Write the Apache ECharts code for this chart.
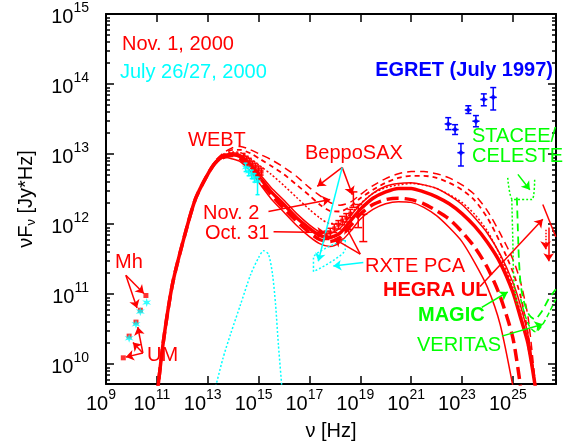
<!DOCTYPE html>
<html>
<head>
<meta charset="utf-8">
<script src="https://cdn.jsdelivr.net/npm/echarts@6/dist/echarts.min.js"></script>
<style>
html, body { margin: 0; padding: 0; background: #fff; }
#main { width: 570px; height: 448px; }
</style>
</head>
<body>
<div id="main"></div>
<script>
// all values are log10: frequency [Hz] and nuFnu [Jy*Hz]
var nuLog = [11.0, 11.27, 11.63, 12.14, 12.53, 13.0, 13.31, 13.67, 13.98, 14.29, 14.69, 15.1, 15.5, 16.0, 16.5, 17.0, 17.4, 17.8, 18.2, 18.6, 19.0, 19.5, 20.0, 20.5, 21.0, 21.5, 22.0, 22.5, 23.0, 23.5, 24.0, 24.5, 25.0, 25.3, 25.6, 25.9]

// red model curves (Nov. 1 2000 and neighbours)
var modelThick = [9.53, 10.36, 11.17, 11.90, 12.37, 12.71, 12.88, 12.98, 12.99, 12.96, 12.82, 12.64, 12.46, 12.28, 12.09, 11.94, 11.84, 11.81, 11.87, 12.04, 12.21, 12.37, 12.46, 12.51, 12.51, 12.46, 12.39, 12.29, 12.15, 11.97, 11.74, 11.45, 11.03, 10.67, 10.29, 9.64]
var modelLow = [9.53, 10.36, 11.17, 11.90, 12.37, 12.71, 12.88, 12.95, 12.93, 12.89, 12.75, 12.55, 12.36, 12.17, 11.98, 11.82, 11.72, 11.68, 11.74, 11.89, 12.07, 12.21, 12.29, 12.32, 12.31, 12.24, 12.12, 11.95, 11.75, 11.45, 11.10, 10.57, 9.69]
var modelThickDash = [9.53, 10.36, 11.17, 11.90, 12.37, 12.71, 12.88, 12.96, 12.98, 12.93, 12.79, 12.59, 12.42, 12.22, 12.04, 11.88, 11.78, 11.75, 11.81, 11.97, 12.14, 12.28, 12.35, 12.37, 12.35, 12.29, 12.19, 12.07, 11.89, 11.67, 11.38, 10.97, 10.38, 9.69]
var modelTopDash = [9.53, 10.36, 11.17, 11.90, 12.37, 12.71, 12.91, 13.03, 13.09, 13.11, 13.06, 12.99, 12.92, 12.81, 12.68, 12.52, 12.41, 12.31, 12.27, 12.31, 12.42, 12.55, 12.65, 12.72, 12.75, 12.75, 12.72, 12.66, 12.56, 12.42, 12.19, 11.87, 11.50, 11.18, 10.67, 9.67]
var modelMidDash = [9.53, 10.36, 11.17, 11.90, 12.37, 12.71, 12.89, 13.01, 13.06, 13.06, 13.01, 12.92, 12.83, 12.71, 12.56, 12.41, 12.28, 12.19, 12.18, 12.25, 12.37, 12.49, 12.59, 12.66, 12.69, 12.69, 12.66, 12.59, 12.49, 12.34, 12.09, 11.74, 11.32, 10.98, 10.43, 9.64]
var modelDotted = [9.53, 10.36, 11.17, 11.90, 12.37, 12.71, 12.88, 12.99, 13.03, 13.02, 12.93, 12.82, 12.71, 12.55, 12.38, 12.21, 12.09, 12.01, 12.01, 12.14, 12.29, 12.44, 12.52, 12.56, 12.58, 12.56, 12.51, 12.42, 12.31, 12.14, 11.90, 11.55, 11.10, 10.74, 10.24, 9.64]
var modelThin = [9.53, 10.36, 11.17, 11.90, 12.37, 12.71, 12.88, 12.98, 13.02, 12.99, 12.86, 12.69, 12.52, 12.34, 12.15, 11.99, 11.89, 11.87, 11.94, 12.11, 12.28, 12.44, 12.54, 12.58, 12.59, 12.56, 12.51, 12.41, 12.28, 12.09, 11.87, 11.57, 11.17, 10.84, 10.41, 9.68]

// cyan model (July 26/27 2000)
var julyNu = [13.24, 13.59, 13.90, 14.29, 14.69, 15.0, 15.20, 15.39, 15.55, 15.67, 15.78, 15.94]
var julyF = [9.57, 10.07, 10.43, 10.85, 11.28, 11.52, 11.62, 11.57, 11.28, 10.85, 10.28, 9.57]

// radio (UM, Mh)
var radioNu = [10.57, 10.35, 10.18, 9.91, 9.68]
var radioF = [10.98, 10.77, 10.60, 10.40, 10.09]
var radioJulyNu = [10.60, 10.35, 10.18, 9.91]
var radioJulyF = [10.88, 10.75, 10.57, 10.37]

// WEBT optical
var webtNu = [14.41, 14.53, 14.65, 14.76, 14.88, 15.0, 15.12]
var webtF = [12.96, 12.92, 12.89, 12.85, 12.82, 12.78, 12.75]
var webtJulyNu = [14.49, 14.61, 14.73, 14.84, 14.96]
var webtJulyF = [12.81, 12.75, 12.71, 12.66, 12.61]
var webtJulyLo = [12.75, 12.69, 12.65, 12.60, 12.42]
var webtJulyHi = [12.87, 12.81, 12.77, 12.72, 12.67]

// BeppoSAX / RXTE X-rays
var saxNu = [17.67, 17.82, 17.98, 18.14, 18.29, 18.45, 18.61]
var saxF = [11.84, 11.88, 11.94, 11.99, 12.05, 12.09, 12.15]
var pcaNu = [18.73, 18.92, 19.12]
var pcaF = [12.35, 12.12, 11.95]
var pcaLo = [12.24, 11.95, 11.75]
var pcaHi = [12.46, 12.28, 12.14]
var xrayJulyNu = [17.16, 17.16, 18.41, 18.41, 17.16]
var xrayJulyF = [11.32, 11.52, 11.78, 11.64, 11.32]

// EGRET (July 1997)
var egretNu = [22.46, 22.73, 22.96, 23.25, 23.55, 23.86, 24.23]
var egretF = [13.43, 13.35, 13.02, 13.63, 13.47, 13.78, 13.81]
var egretLo = [13.35, 13.28, 12.83, 13.58, 13.39, 13.69, 13.63]
var egretHi = [13.52, 13.42, 13.15, 13.69, 13.55, 13.86, 13.95]

// HEGRA upper limit and sensitivity curves
var hegraNu = [26.18, 26.69]
var hegraF = [12.28, 11.82]
var stageNu = [24.80, 25.0, 25.75, 25.86]
var stageF = [12.66, 12.35, 12.35, 12.66]
var stageTailNu = [24.96, 25.0, 25.04, 25.16]
var stageTailF = [12.35, 11.78, 11.21, 10.85]
var magicNu = [25.16, 25.20, 25.24, 25.31, 25.43, 25.63, 25.86, 26.14, 26.41, 26.69]
var magicF = [12.38, 11.92, 11.50, 11.14, 10.90, 10.71, 10.64, 10.75, 10.93, 11.07]
var veritasNu = [25.31, 25.47, 25.67, 25.90, 26.18, 26.45, 26.69]
var veritasF = [10.93, 10.71, 10.53, 10.46, 10.57, 10.75, 10.93]

var xTicks = [1e9, 1e11, 1e13, 1e15, 1e17, 1e19, 1e21, 1e23, 1e25]
var yTicks = [1e10, 1e11, 1e12, 1e13, 1e14, 1e15]

// annotation arrows: [nu1, f1, nu2, f2, colour, style]
var arrows = [
    [9.78, 11.27, 10.49, 11.01, 'red'], [9.78, 11.27, 10.22, 10.80, 'red'],
    [10.45, 10.16, 10.06, 10.31, 'red'], [10.45, 10.16, 10.25, 10.53, 'red'], [10.45, 10.16, 9.78, 10.10, 'red'],
    [15.39, 12.18, 17.82, 12.35, 'red'], [15.59, 11.89, 17.63, 11.88, 'red'],
    [18.29, 12.81, 17.31, 12.54, 'red'], [18.29, 12.81, 18.69, 12.42, 'red'], [18.29, 12.81, 17.35, 11.47, 'cyan'],
    [19.0, 11.57, 17.98, 11.79, 'red'], [19.0, 11.57, 18.41, 11.98, 'red'], [19.12, 11.45, 17.94, 11.40, 'cyan'],
    [23.71, 11.11, 26.18, 12.07, 'red'],
    [23.78, 10.81, 24.80, 11.03, 'green'], [24.57, 10.40, 26.18, 10.57, 'green'], [25.20, 12.71, 25.67, 12.49, 'green'],
    [26.41, 11.95, 26.41, 11.47, 'red'], [26.29, 11.92, 26.29, 11.64, 'red', 'dotted']
]

var RED = '#ff0000', CYAN = '#00ffff', GREEN = '#00ff00', BLUE = '#0000ff'
var colours = { red: RED, cyan: CYAN, green: GREEN }
var FONT = 'Liberation Sans'

function p10 (v) { return Math.pow(10, v) }

function pts (xs, ys) {
    var out = []
    for (var i = 0; i < ys.length; i++) out.push([p10(xs[i]), p10(ys[i])])
    return out
}

function bars (xs, ys, lo, hi, dx) {
    var out = []
    for (var i = 0; i < xs.length; i++) {
        var row = [p10(xs[i]), p10(ys[i]), p10(lo[i]), p10(hi[i])]
        if (dx) row.push(p10(xs[i] - dx), p10(xs[i] + dx))
        out.push(row)
    }
    return out
}

var yMinor = []
for (var d = 9; d < 15; d++) {
    for (var m = 2; m < 10; m++) {
        if (m * Math.pow(10, d) > 5.2e9) yMinor.push(m * Math.pow(10, d))
    }
}

function curve (ys, color, width, type, nus) {
    return {
        type: 'line', data: pts(nus || nuLog, ys), showSymbol: false, smooth: 0.25,
        lineStyle: { color: color, width: width, type: type || 'solid' }, z: 3
    }
}

function errSeries (data, color, cap, z) {
    return {
        type: 'custom', data: data, z: z || 4,
        encode: { x: 0, y: 1 },
        renderItem: function (params, api) {
            var x = api.value(0), y = api.value(1)
            var lo = api.coord([x, api.value(2)])
            var hi = api.coord([x, api.value(3)])
            var st = { stroke: color, lineWidth: 1.5 }
            var ch = [
                { type: 'line', shape: { x1: lo[0], y1: lo[1], x2: hi[0], y2: hi[1] }, style: st },
                { type: 'line', shape: { x1: lo[0] - cap, y1: lo[1], x2: lo[0] + cap, y2: lo[1] }, style: st },
                { type: 'line', shape: { x1: hi[0] - cap, y1: hi[1], x2: hi[0] + cap, y2: hi[1] }, style: st }
            ]
            var xl = api.value(4)
            if (xl > 0) {
                var l = api.coord([xl, y]), r = api.coord([api.value(5), y])
                ch.push({ type: 'line', shape: { x1: l[0], y1: l[1], x2: r[0], y2: r[1] }, style: st })
            }
            return { type: 'group', children: ch }
        }
    }
}

var star = 'path://M0,-10L2,-3.46L8.66,-5L4,0L8.66,5L2,3.46L0,10L-2,3.46L-8.66,5L-4,0L-8.66,-5L-2,-3.46Z'

var rich = {
    b: { fontSize: 20, fontFamily: FONT, color: '#000', lineHeight: 26, verticalAlign: 'bottom' },
    s: { fontSize: 14, fontFamily: FONT, color: '#000', lineHeight: 14, verticalAlign: 'top' }
}
function powLabel (v) {
    return '{b|10}{s|' + Math.round(Math.log10(v)) + '}'
}

function xAxisOf (pos) {
    return {
        type: 'log', logBase: 10, min: 1e9, max: 5e26, position: pos,
        axisLine: { onZero: false, lineStyle: { color: '#000', width: 2 } },
        axisTick: { inside: true, length: 8, customValues: xTicks, lineStyle: { color: '#000', width: 1.5 } },
        axisLabel: pos === 'bottom'
            ? { customValues: xTicks, formatter: powLabel, rich: rich, margin: 4, padding: [0, 10, 0, 0], showMinLabel: true, showMaxLabel: true }
            : { show: false },
        splitLine: { show: false }, minorTick: { show: false },
        name: pos === 'bottom' ? 'ν [Hz]' : '',
        nameLocation: 'middle', nameGap: 37,
        nameTextStyle: { fontSize: 20, fontFamily: FONT, color: '#000' }
    }
}

function yAxisOf (pos, minor) {
    var a = {
        type: 'log', logBase: 10, min: 5.2e9, max: 1.002e15, position: pos,
        axisLine: { show: !minor, onZero: false, lineStyle: { color: '#000', width: 2 } },
        axisTick: { inside: true, length: minor ? 4 : 8, customValues: minor ? yMinor : yTicks, lineStyle: { color: '#000', width: 1.5 } },
        axisLabel: { show: false },
        splitLine: { show: false }, minorTick: { show: false }
    }
    if (pos === 'left' && !minor) {
        a.axisLabel = { customValues: yTicks, formatter: powLabel, rich: rich, margin: 17, showMinLabel: true, showMaxLabel: true }
        a.name = 'νF{sub|ν} [Jy*Hz]'
        a.nameLocation = 'middle'
        a.nameGap = 68
        a.nameTextStyle = {
            fontSize: 20, fontFamily: FONT, color: '#000',
            rich: { sub: { fontSize: 13, fontFamily: FONT, color: '#000', padding: [10, 0, 0, 0] } }
        }
    }
    return a
}

function label (text, x, y, color, bold, align) {
    return {
        type: 'text', x: x, y: y, z: 20,
        style: {
            text: text, fill: color, align: align || 'left', verticalAlign: 'middle',
            font: (bold ? 'bold ' : '') + '20px "' + FONT + '"'
        }
    }
}

var arrowLines = arrows.map(function (a) {
    return [
        { coord: [p10(a[0]), p10(a[1])], lineStyle: { color: colours[a[4]], width: 1.5, type: a[5] || 'solid' } },
        { coord: [p10(a[2]), p10(a[3])] }
    ]
})

var myChart = echarts.init(document.getElementById('main'))
var option = {
    animation: false,
    backgroundColor: '#fff',
    grid: { left: 106, right: 14, top: 14, bottom: 64, containLabel: false, outerBoundsMode: 'none' },
    xAxis: [xAxisOf('bottom'), xAxisOf('top')],
    yAxis: [yAxisOf('left'), yAxisOf('left', true), yAxisOf('right'), yAxisOf('right', true)],
    graphic: [
        label('Nov. 1, 2000', 122, 44, RED),
        label('July 26/27, 2000', 120, 72, CYAN),
        label('EGRET (July 1997)', 553, 70, BLUE, true, 'right'),
        label('WEBT', 188, 140, RED),
        label('BeppoSAX', 305, 153, RED),
        label('Nov. 2', 203, 213, RED),
        label('Oct. 31', 205, 233, RED),
        label('RXTE PCA', 365, 266, RED),
        label('HEGRA UL', 383, 290, RED, true),
        label('MAGIC', 418, 315, GREEN, true),
        label('VERITAS', 417, 345, GREEN),
        label('STACEE/', 472, 136, GREEN),
        label('CELESTE', 472, 156, GREEN),
        label('Mh', 115, 262, RED),
        label('UM', 147, 355, RED)
    ],
    series: [
        curve(julyF, CYAN, 1.5, [2, 2], julyNu),
        curve(modelLow, RED, 1.5),
        curve(modelThin, RED, 1.5),
        curve(modelDotted, RED, 1.5, [2, 2]),
        curve(modelMidDash, RED, 1.8, [5, 4]),
        curve(modelTopDash, RED, 1.5, [8, 5]),
        curve(modelThickDash, RED, 3.5, [12, 6]),
        curve(modelThick, RED, 3.5),
        curve(stageF, GREEN, 1.5, [2, 2], stageNu),
        curve(stageTailF, GREEN, 1.5, [2, 2], stageTailNu),
        curve(magicF, GREEN, 1.8, [8, 5], magicNu),
        curve(veritasF, GREEN, 1.5, [5, 3], veritasNu),
        curve(hegraF, RED, 1.5, 'solid', hegraNu),
        curve(xrayJulyF, CYAN, 1.5, [2, 2], xrayJulyNu),
        errSeries(bars(webtNu, webtF, webtF.map(function (v) { return v - 0.05 }), webtF.map(function (v) { return v + 0.05 })), RED, 2),
        errSeries(bars(webtJulyNu, webtJulyF, webtJulyLo, webtJulyHi), CYAN, 2),
        errSeries(bars(saxNu, saxF, saxF.map(function (v) { return v - 0.06 }), saxF.map(function (v) { return v + 0.06 })), RED, 3),
        errSeries(bars(pcaNu, pcaF, pcaLo, pcaHi), RED, 4),
        errSeries(bars(egretNu, egretF, egretLo, egretHi, 0.14), BLUE, 3),
        {
            type: 'scatter', data: pts(radioNu, radioF), symbol: 'rect', symbolSize: 5,
            itemStyle: { color: RED }, z: 5
        },
        {
            type: 'scatter', data: pts(radioJulyNu, radioJulyF), symbol: star, symbolSize: 9,
            itemStyle: { color: CYAN }, z: 6
        },
        {
            type: 'scatter', data: pts(webtNu, webtF), symbol: 'rect', symbolSize: 4,
            itemStyle: { color: RED }, z: 5
        },
        {
            type: 'scatter', data: pts(webtJulyNu, webtJulyF), symbol: star, symbolSize: 8,
            itemStyle: { color: CYAN }, z: 6
        },
        {
            type: 'scatter', data: pts(saxNu, saxF), symbol: 'rect', symbolSize: 4,
            itemStyle: { color: RED }, z: 5
        },
        {
            type: 'scatter', data: pts(egretNu, egretF), symbol: 'diamond', symbolSize: 6,
            itemStyle: { color: BLUE }, z: 6
        },
        {
            type: 'line', data: [], z: 10,
            markLine: {
                silent: true, symbol: ['none', 'arrow'], symbolSize: 8,
                label: { show: false }, animation: false,
                data: arrowLines
            }
        }
    ]
}
myChart.setOption(option)
window.onresize = myChart.resize
</script>
</body>
</html>
